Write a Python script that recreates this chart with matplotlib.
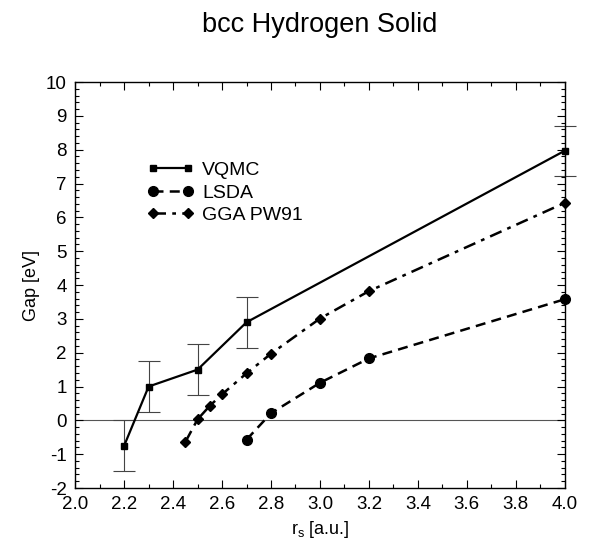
import matplotlib
matplotlib.use("Agg")
from matplotlib import pyplot as plt
from matplotlib.ticker import MultipleLocator

plt.rcParams['font.family'] = ['Liberation Sans', 'DejaVu Sans']
plt.rcParams['axes.unicode_minus'] = False

# VQMC gap with error bars
vqmc_rs = [2.2, 2.3, 2.5, 2.7, 4.0]
vqmc_gap = [-0.75, 1.0, 1.5, 2.9, 7.97]
vqmc_err = [0.75, 0.75, 0.75, 0.75, 0.74]

# LSDA gap
lsda_rs = [2.7, 2.8, 3.0, 3.2, 4.0]
lsda_gap = [-0.57, 0.21, 1.11, 1.83, 3.58]

# GGA PW91 gap
gga_rs = [2.45, 2.5, 2.55, 2.6, 2.7, 2.8, 3.0, 3.2, 4.0]
gga_gap = [-0.64, 0.03, 0.43, 0.77, 1.39, 1.97, 3.01, 3.82, 6.43]

fig = plt.figure(figsize=(5.92, 5.42), dpi=100)
ax = fig.add_axes([0.127, 0.0996, 0.827, 0.749])

ax.axhline(0, color='#555555', lw=0.8, zorder=1)

# error bars (thin grey, not clipped at the right edge)
eb = ax.errorbar(vqmc_rs, vqmc_gap, yerr=vqmc_err, fmt='none', ecolor='#444444',
                 elinewidth=0.8, capsize=8, capthick=0.8, zorder=2)
for artist in eb.lines[1] + eb.lines[2]:
    artist.set_clip_on(False)

ax.plot(vqmc_rs, vqmc_gap, 'k-', marker='s', ms=5, lw=1.6, label='VQMC', zorder=3, clip_on=False)
ax.plot(lsda_rs, lsda_gap, 'k', ls=(0, (4, 2.5)), marker='o', ms=7, lw=1.8, label='LSDA', zorder=3, clip_on=False)
ax.plot(gga_rs, gga_gap, 'k', ls=(0, (5, 2.5, 1.5, 2.5)), marker='D', ms=5.5, lw=1.8, label='GGA PW91', zorder=3, clip_on=False)

ax.set_xlim(2.0, 4.0)
ax.set_ylim(-2, 10)
ax.xaxis.set_major_locator(MultipleLocator(0.2))
ax.xaxis.set_minor_locator(MultipleLocator(0.1))
ax.yaxis.set_major_locator(MultipleLocator(1))
ax.yaxis.set_minor_locator(MultipleLocator(0.2))
ax.set_xticklabels([f'{v:.1f}' for v in ax.get_xticks()])
ax.tick_params(which='both', direction='in', top=True, right=True, labelsize=13.5, width=0.8)
ax.tick_params(which='major', length=6, pad=6)
ax.tick_params(which='minor', length=3)
for s in ax.spines.values():
    s.set_linewidth(1.0)

ax.set_xlabel(r'r$_\mathregular{s}$ [a.u.]', fontsize=13, labelpad=4)
ax.set_ylabel('Gap [eV]', fontsize=13, labelpad=4)
ax.set_title('bcc Hydrogen Solid', fontsize=19.5, pad=36)

ax.legend(loc='upper left', bbox_to_anchor=(0.128, 0.828), frameon=False, fontsize=14,
          numpoints=2, handlelength=2.4, handletextpad=0.4, labelspacing=0.25, borderpad=0)

fig.savefig('out.png', dpi=100)
